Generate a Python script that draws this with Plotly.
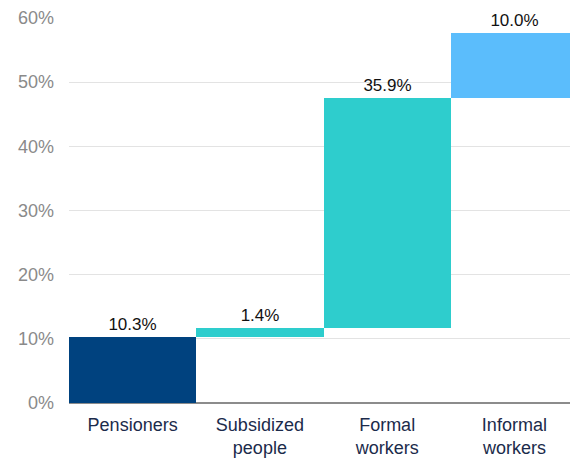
import plotly.graph_objects as go

##########
# Inputs #
##########

categories = ["Pensioners", "Subsidized<br>people", "Formal<br>workers", "Informal<br>workers"]
values = [10.3, 1.4, 35.9, 10.0]
bar_colours = ["#00427f", "#2ecdcd", "#2ecdcd", "#5bbdfc"]
y_tick_values = [0, 10, 20, 30, 40, 50, 60]
y_tick_labels = ["0%", "10%", "20%", "30%", "40%", "50%", "60%"]

################
# Prepare data #
################

bases = []
running = 0
for v in values:
    bases.append(running)
    running += v

labels = [f"{v:.1f}%" for v in values]

bar = go.Bar(
    x=categories,
    y=values,
    base=bases,
    marker_color=bar_colours,
    marker_line_width=0,
    text=labels,
    textposition="outside",
    textfont={"family": "Liberation Sans, Arial", "size": 17, "color": "#111111"},
    cliponaxis=False,
    showlegend=False,
)

#################
# Create layout #
#################

# the page body adds an 8px margin, so the figure is sized 8px smaller
fig = go.Figure(bar)
fig.update_layout(
    width=570,
    height=451,
    plot_bgcolor="white",
    paper_bgcolor="white",
    bargap=0,
    margin={"l": 61, "r": 0, "t": 10, "b": 56, "autoexpand": False},
    font={"family": "Liberation Sans, Arial"},
    xaxis={
        "tickfont": {"size": 18, "color": "#1b2b4b"},
        "showline": False,
        "ticks": "",
        "automargin": False,
        "ticklabelstandoff": 9,
    },
    yaxis={
        "range": [0, 60],
        "tickvals": y_tick_values,
        "ticktext": y_tick_labels,
        "tickfont": {"size": 18, "color": "#8a8a8a"},
        "gridcolor": "#e3e3e3",
        "gridwidth": 1,
        "zeroline": True,
        "zerolinecolor": "#8c8c8c",
        "zerolinewidth": 1.5,
        "automargin": False,
        "ticklabelstandoff": 14,
    },
)

fig.write_html("out.html")
